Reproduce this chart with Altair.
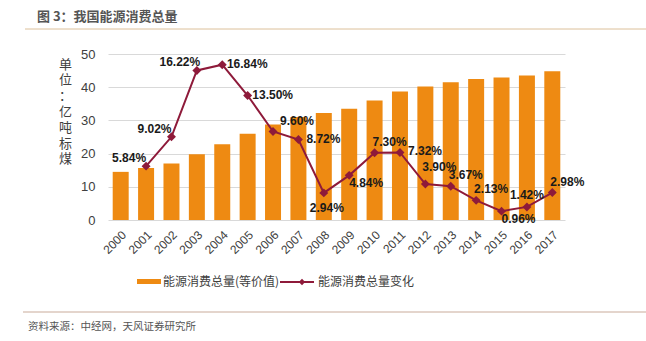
import altair as alt
import pandas as pd

# ---------------- data ----------------
years = [str(y) for y in range(2000, 2018)]
consumption = [14.5, 15.7, 17.0, 19.8, 22.8, 26.0, 28.8, 31.0, 32.2, 33.5,
               36.0, 38.7, 40.2, 41.5, 42.5, 42.9, 43.5, 44.8]

change_years = [str(y) for y in range(2001, 2018)]
change_pct = [5.84, 9.02, 16.22, 16.84, 13.50, 9.60, 8.72, 2.94, 4.84, 7.30,
              7.32, 3.90, 3.67, 2.13, 0.96, 1.42, 2.98]
# where each data label sits relative to its point
label_place = ["NW", "NW", "NW", "E", "E", "ENE", "E", "S", "SE", "NE",
               "E", "NNE", "NE", "NE", "SE", "N", "NE"]

left_ticks = [0, 10, 20, 30, 40, 50]
right_ticks = [0, 0.02, 0.04, 0.06, 0.08, 0.10, 0.12, 0.14, 0.16, 0.18]

title_text = "图 3：我国能源消费总量"
source_text = "资料来源：中经网，天风证券研究所"
bar_name = "能源消费总量(等价值)"
line_name = "能源消费总量变化"
y_title = ["单", "位", "：", "亿", "吨", "标", "煤"]

# ---------------- styling ----------------
ORANGE = "#EE8A12"
MAROON = "#8E1A3A"
TEXT = "#404040"
CJK = "Noto Sans CJK SC"
LAT = "Liberation Sans"

place_offsets = {"NW": (-17, -8), "E": (25, -1), "ENE": (24, -10),
                 "NE": (15, -11), "NNE": (14, -17), "N": (0, -12),
                 "S": (3, 15), "SE": (17, 8)}

df_bar = pd.DataFrame({"year": years, "value": consumption})
df_line = pd.DataFrame({"year": change_years, "pct": change_pct, "place": label_place})
df_line["frac"] = df_line["pct"] / 100.0
df_line["label"] = df_line["pct"].map(lambda v: f"{v:.2f}%")

xenc = alt.X("year:O",
             scale=alt.Scale(paddingInner=0.37, paddingOuter=0.185),
             axis=alt.Axis(title=None, labelAngle=-45, labelFontSize=12, labelColor=TEXT,
                           labelFont=LAT, domain=False, ticks=False, labelPadding=9))

bars = alt.Chart(df_bar).mark_bar(color=ORANGE).encode(
    x=xenc,
    y=alt.Y("value:Q", scale=alt.Scale(domain=[0, 50]),
            axis=alt.Axis(values=left_ticks, title=y_title, titleAngle=0,
                          titleFont=CJK, titleFontSize=13, titleFontWeight="normal",
                          titleColor=TEXT, titleLineHeight=15.8, titleX=-43, titleY=4,
                          titleBaseline="top", titleAlign="center",
                          labelFontSize=13, labelColor=TEXT, labelFont=LAT,
                          labelPadding=13, domain=False, ticks=False,
                          grid=True, gridColor="#d9d9d9", gridWidth=1))
)

yline = alt.Y("frac:Q", scale=alt.Scale(domain=[0, 0.18]),
              axis=alt.Axis(orient="right", values=right_ticks, format=".2%", title=None,
                            labelFontSize=12, labelColor=TEXT, labelFont=LAT,
                            labelPadding=13, domain=False, ticks=False, grid=False))

base_line = alt.Chart(df_line).encode(x=alt.X("year:O"), y=yline)
line = base_line.mark_line(color=MAROON, strokeWidth=2)
pts = base_line.mark_point(shape="diamond", filled=True, color=MAROON, size=80, opacity=1)

text_layers = []
for p, (dx, dy) in place_offsets.items():
    text_layers.append(
        alt.Chart(df_line).transform_filter(alt.datum.place == p)
        .mark_text(font=LAT, fontSize=12, fontWeight="bold", color="#1a1a1a",
                   align="center", baseline="middle", dx=dx, dy=dy)
        .encode(x=alt.X("year:O"), y=alt.Y("frac:Q", axis=None), text="label:N")
    )

right_layer = alt.layer(line, pts, *text_layers)

one = pd.DataFrame({"k": [0]})
deco = []
deco.append(alt.Chart(one).mark_text(font=CJK, fontSize=13, fontWeight="bold", color="#555555",
                                     align="left", baseline="middle")
            .encode(x=alt.value(-71), y=alt.value(-37), text=alt.value(title_text)))
deco.append(alt.Chart(one).mark_rule(color="#dcc09a", strokeWidth=1)
            .encode(x=alt.value(-83), x2=alt.value(540), y=alt.value(-25)))
deco.append(alt.Chart(one).mark_rule(color="#c9ab9a", strokeWidth=1)
            .encode(x=alt.value(-85), x2=alt.value(540), y=alt.value(258)))
deco.append(alt.Chart(one).mark_text(font=CJK, fontSize=10.5, color="#555555",
                                     align="left", baseline="middle")
            .encode(x=alt.value(-80), y=alt.value(273), text=alt.value(source_text)))
# legend
deco.append(alt.Chart(one).mark_rect(color=ORANGE)
            .encode(x=alt.value(29), x2=alt.value(53), y=alt.value(225), y2=alt.value(230)))
deco.append(alt.Chart(one).mark_text(font=CJK, fontSize=12, color=TEXT,
                                     align="left", baseline="middle")
            .encode(x=alt.value(55), y=alt.value(228), text=alt.value(bar_name)))
deco.append(alt.Chart(one).mark_rule(color=MAROON, strokeWidth=2)
            .encode(x=alt.value(172), x2=alt.value(206), y=alt.value(228)))
deco.append(alt.Chart(one).mark_point(shape="diamond", filled=True, color=MAROON, size=40, opacity=1)
            .encode(x=alt.value(194), y=alt.value(228)))
deco.append(alt.Chart(one).mark_text(font=CJK, fontSize=12, color=TEXT,
                                     align="left", baseline="middle")
            .encode(x=alt.value(210), y=alt.value(228), text=alt.value(line_name)))

chart = alt.layer(bars, right_layer, *deco).resolve_scale(y="independent").properties(
    width=457, height=166,
    padding={"left": 108, "top": 54, "right": 81, "bottom": 121},
    autosize=alt.AutoSizeParams(type="none"),
    background="#ffffff",
).configure_view(stroke=None)

chart.save("out.html", embed_options={"renderer": "svg", "actions": False})
